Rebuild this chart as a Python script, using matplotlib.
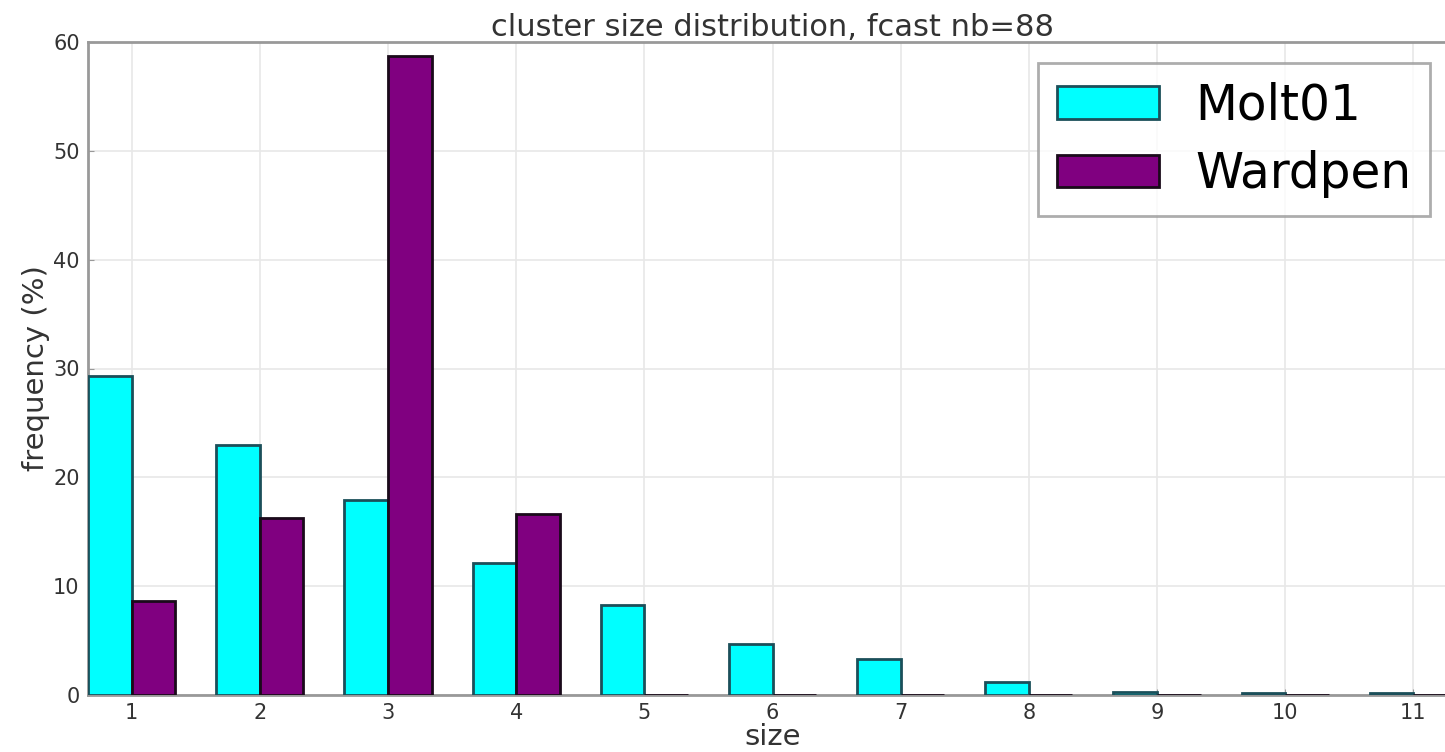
import numpy as np
import matplotlib.pyplot as plt

sizes = np.arange(1, 12)
molt01 = [29.3, 23.0, 17.9, 12.1, 8.3, 4.7, 3.3, 1.2, 0.3, 0.2, 0.2]
wardpen = [8.6, 16.3, 58.7, 16.6, 0.0, 0.0, 0.0, 0.0, 0.0, 0.0, 0.0]
width = 0.34

fig = plt.figure(figsize=(14.45, 7.52), dpi=100)
ax = fig.add_axes([88 / 1445, 57 / 752, 1369 / 1445, 653 / 752])

ax.bar(sizes - width, molt01, width, align='edge', color='#00ffff',
       edgecolor='#1b4f5a', linewidth=2, label='Molt01', zorder=3)
ax.bar(sizes, wardpen, width, align='edge', color='#800080',
       edgecolor='#1a0a1a', linewidth=2, label='Wardpen', zorder=3)

ax.set_xlim(1 - width, 11 + width)
ax.set_ylim(0, 60)
ax.set_xticks(sizes)
ax.set_yticks(np.arange(0, 61, 10))
ax.grid(True, color='#e8e8e8', linewidth=1.2, zorder=0)
ax.tick_params(direction='in', length=4, colors='#999999', labelcolor='#333333',
               labelsize=15, pad=6)
for s in ax.spines.values():
    s.set_color('#999999')
    s.set_linewidth(2)

ax.set_title('cluster size distribution, fcast nb=88', fontsize=22, color='#333333', pad=2)
ax.set_xlabel('size', fontsize=21, color='#333333', labelpad=0)
ax.set_ylabel('frequency (%)', fontsize=21, color='#333333', labelpad=2)

leg = ax.legend(loc='upper right', bbox_to_anchor=(1430 / 1445, 1 - 63 / 752),
                bbox_transform=fig.transFigure, borderaxespad=0, fontsize=35,
                handlelength=2.1, handleheight=0.65, fancybox=False,
                labelspacing=0.42, handletextpad=0.75, borderpad=0.38)
leg.get_frame().set_edgecolor('#999999')
leg.get_frame().set_linewidth(2)

fig.savefig('out.png', dpi=100)
